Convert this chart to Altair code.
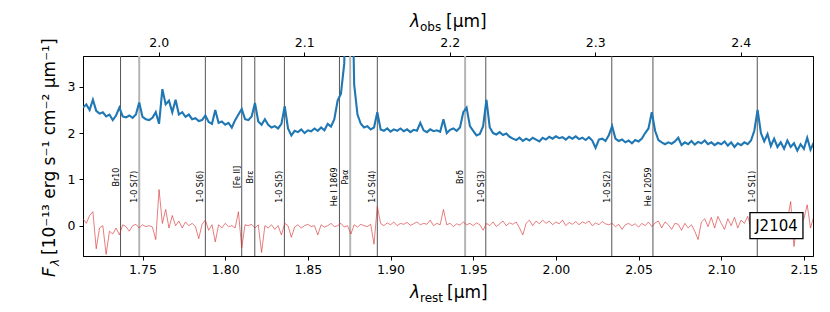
import altair as alt
import pandas as pd

# ---------------- data ----------------
wl = [
    1.714, 1.716, 1.718, 1.720, 1.722, 1.724, 1.726, 1.728, 1.730, 1.732,
    1.734, 1.736, 1.738, 1.740, 1.742, 1.744, 1.746, 1.748, 1.750, 1.752,
    1.754, 1.756, 1.758, 1.760, 1.762, 1.764, 1.766, 1.768, 1.770, 1.772,
    1.774, 1.776, 1.778, 1.780, 1.782, 1.784, 1.786, 1.788, 1.790, 1.792,
    1.794, 1.796, 1.798, 1.800, 1.802, 1.804, 1.806, 1.808, 1.810, 1.812,
    1.814, 1.816, 1.818, 1.820, 1.822, 1.824, 1.826, 1.828, 1.830, 1.832,
    1.834, 1.836, 1.838, 1.840, 1.842, 1.844, 1.846, 1.848, 1.850, 1.852,
    1.854, 1.856, 1.858, 1.860, 1.862, 1.864, 1.866, 1.868, 1.870, 1.872,
    1.874, 1.876, 1.878, 1.880, 1.882, 1.884, 1.886, 1.888, 1.890, 1.892,
    1.894, 1.896, 1.898, 1.900, 1.902, 1.904, 1.906, 1.908, 1.910, 1.912,
    1.914, 1.916, 1.918, 1.920, 1.922, 1.924, 1.926, 1.928, 1.930, 1.932,
    1.934, 1.936, 1.938, 1.940, 1.942, 1.944, 1.946, 1.948, 1.950, 1.952,
    1.954, 1.956, 1.958, 1.960, 1.962, 1.964, 1.966, 1.968, 1.970, 1.972,
    1.974, 1.976, 1.978, 1.980, 1.982, 1.984, 1.986, 1.988, 1.990, 1.992,
    1.994, 1.996, 1.998, 2.000, 2.002, 2.004, 2.006, 2.008, 2.010, 2.012,
    2.014, 2.016, 2.018, 2.020, 2.022, 2.024, 2.026, 2.028, 2.030, 2.032,
    2.034, 2.036, 2.038, 2.040, 2.042, 2.044, 2.046, 2.048, 2.050, 2.052,
    2.054, 2.056, 2.058, 2.060, 2.062, 2.064, 2.066, 2.068, 2.070, 2.072,
    2.074, 2.076, 2.078, 2.080, 2.082, 2.084, 2.086, 2.088, 2.090, 2.092,
    2.094, 2.096, 2.098, 2.100, 2.102, 2.104, 2.106, 2.108, 2.110, 2.112,
    2.114, 2.116, 2.118, 2.120, 2.122, 2.124, 2.126, 2.128, 2.130, 2.132,
    2.134, 2.136, 2.138, 2.140, 2.142, 2.144, 2.146, 2.148, 2.150, 2.152,
    2.154, 2.156,
]

flux = [
    2.55, 2.62, 2.50, 2.72, 2.48, 2.42, 2.45, 2.36, 2.40, 2.28,
    2.38, 2.55, 2.36, 2.34, 2.38, 2.33, 2.40, 2.66, 2.35, 2.30,
    2.28, 2.33, 2.45, 2.20, 2.95, 2.62, 2.70, 2.45, 2.72, 2.40,
    2.45, 2.35, 2.40, 2.30, 2.32, 2.26, 2.28, 2.38, 2.24, 2.20,
    2.50, 2.22, 2.25, 2.18, 2.22, 2.12, 2.28, 2.40, 2.52, 2.30,
    2.28, 2.36, 2.65, 2.25, 2.18, 2.30, 2.18, 2.12, 2.15, 2.10,
    2.20, 2.58, 2.10, 1.95, 2.05, 2.02, 2.08, 2.00, 2.06, 2.04,
    2.10, 2.05, 2.12, 2.06, 2.20, 2.14, 2.30, 2.70, 2.85, 3.50,
    8.00, 7.00, 3.05, 2.40, 2.20, 2.12, 2.15, 2.08, 2.12, 2.45,
    2.08, 2.05, 2.10, 2.03, 2.08, 2.05, 2.10, 2.04, 2.08, 2.02,
    2.07, 2.05, 2.22, 2.06, 2.02, 2.08, 2.04, 2.06, 2.03, 2.30,
    2.00, 2.07, 2.10, 2.05, 2.12, 2.45, 2.55, 2.15, 2.05, 1.95,
    1.98, 2.15, 2.72, 2.12, 2.00, 1.97, 2.02, 1.96, 1.99, 1.92,
    1.88, 1.85, 1.90, 1.83, 1.88, 1.84, 1.90, 1.86, 1.82, 1.90,
    1.86, 1.92, 1.88, 1.93, 1.89, 1.91, 1.86, 1.92, 1.88, 1.93,
    1.87, 1.90, 1.85, 1.91, 1.84, 1.68, 1.86, 1.88, 1.83, 1.95,
    2.15, 1.88, 1.83, 1.86, 1.80, 1.84, 1.78, 1.85, 1.82, 1.88,
    2.00, 2.10, 2.45, 2.05, 1.85, 1.80, 1.76, 1.80, 1.77, 1.82,
    1.90, 1.74, 1.80, 1.76, 1.83, 1.75, 1.81, 1.78, 1.84, 1.76,
    1.80, 1.74, 1.79, 1.76, 1.82, 1.73, 1.80, 1.70, 1.78, 1.74,
    1.80, 1.76, 1.84, 2.05, 2.50, 2.00, 1.82, 1.98, 1.72, 1.88,
    1.70, 1.80, 1.66, 1.84, 1.70, 1.78, 1.62, 1.76, 1.66, 1.90,
    1.64, 1.80,
]

resid = [
    0.15, 0.05, 0.22, 0.30, -0.50, -0.05, 0.00, -0.62, -0.12, -0.18,
    -0.05, -0.20, 0.02, -0.02, -0.12, 0.00, 0.03, -0.05, 0.02, -0.02,
    0.00, -0.03, -0.30, 0.78, 0.05, 0.35, -0.05, 0.22, 0.00, 0.10,
    -0.05, 0.08, 0.00, 0.05, -0.02, -0.28, 0.03, 0.12, -0.10, 0.02,
    -0.35, 0.02, -0.05, 0.05, -0.02, 0.00, -0.05, 0.30, -0.48, 0.02,
    0.00, 0.03, -0.05, 0.02, -0.58, 0.00, -0.05, 0.02, -0.08, 0.00,
    -0.20, 0.05, 0.00, -0.25, -0.03, 0.02, -0.05, 0.00, 0.03, -0.02,
    0.00, -0.20, 0.02, -0.03, 0.00, 0.05, -0.02, 0.00, 0.05, -0.03,
    0.00, -0.18, 0.02, -0.03, 0.03, 0.00, -0.02, 0.03, -0.40, 0.42,
    0.05, 0.00, 0.06, 0.02, 0.08, 0.00, 0.05, 0.03, 0.07, 0.01,
    0.04, 0.08, 0.02, 0.05, 0.03, 0.12, 0.00, 0.05, 0.02, 0.35,
    0.02, 0.05, -0.02, 0.04, 0.01, 0.08, 0.02, 0.05, 0.00, 0.06,
    0.02, -0.10, 0.05, 0.00, 0.08, -0.02, 0.04, 0.10, 0.00, 0.06,
    0.03, 0.08, -0.05, -0.20, 0.05, 0.12, 0.00, 0.10, 0.04, 0.12,
    0.05, 0.10, 0.02, 0.08, 0.04, 0.12, 0.00, 0.07, 0.03, 0.09,
    0.02, 0.08, 0.05, 0.10, 0.00, 0.06, 0.02, 0.09, 0.04, 0.02,
    0.05, -0.02, 0.03, -0.08, 0.02, 0.05, 0.00, 0.04, -0.03, 0.05,
    0.00, 0.08, -0.02, 0.06, 0.10, -0.05, 0.08, 0.02, -0.08, 0.05,
    0.03, -0.10, 0.05, -0.05, 0.02, -0.12, -0.30, 0.08, 0.15, -0.02,
    0.18, -0.05, 0.20, 0.05, -0.08, 0.15, 0.00, 0.18, -0.05, 0.12,
    0.05, 0.20, -0.05, 0.15, 0.02, 0.18, 0.08, -0.05, 0.15, 0.00,
    0.10, 0.05, -0.10, 0.12, 0.52, -0.45, 0.10, 0.05, 0.15, 0.45,
    -0.05, 0.20,
]

line_names = ["Br10", "1-0 S(7)", "1-0 S(6)", "[Fe II]", "Brε", "1-0 S(5)",
              "He I 1869", "Paα", "1-0 S(4)", "Brδ", "1-0 S(3)", "1-0 S(2)",
              "He I 2059", "1-0 S(1)"]
line_wl = [1.7367, 1.7480, 1.7880, 1.8100, 1.8179, 1.8358, 1.8691, 1.8756,
           1.8920, 1.9451, 1.9576, 2.0338, 2.0587, 2.1218]

obs_ticks = [2.0, 2.1, 2.2, 2.3, 2.4]
rest_ticks = [1.75, 1.80, 1.85, 1.90, 1.95, 2.00, 2.05, 2.10, 2.15]
flux_ticks = [0, 1, 2, 3]
redshift = 0.1365
object_name = "J2104"

# ---------------- styling / layout ----------------
W, H = 730, 200
X_DOM = [1.714, 2.1555]
Y_DOM = [-0.655, 3.665]
FONT = "DejaVu Sans"
light_lines = ["1-0 S(7)", "Paα", "Brδ"]
upper_labels = ["Br10", "[Fe II]", "Brε", "Paα", "Brδ"]

spec = pd.DataFrame({"wl": wl, "flux": flux, "resid": resid})
lines = pd.DataFrame({"name": line_names, "wl": line_wl})
lines["light"] = lines["name"].isin(light_lines)
lines["ly"] = [1.05 if n in upper_labels else 0.84 for n in line_names]
box = pd.DataFrame({"wl": [2.1334], "y": [0.0], "label": [object_name]})

xscale = alt.Scale(domain=X_DOM, nice=False, zero=False)
yscale = alt.Scale(domain=Y_DOM, nice=False, zero=False)
xaxis = alt.Axis(values=rest_ticks, format=".2f", title=None, grid=False,
                 labelFontSize=12.5, tickSize=4, labelPadding=3)
yaxis = alt.Axis(values=flux_ticks, format="d", title=None, grid=False,
                 labelFontSize=12.5, tickSize=4, labelPadding=4)
X = alt.X("wl:Q", scale=xscale, axis=xaxis)
Y = lambda f: alt.Y(f"{f}:Q", scale=yscale, axis=yaxis)

rules = alt.Chart(lines).mark_rule().encode(
    x=X,
    color=alt.condition("datum.light", alt.value("#b5b5b5"), alt.value("#555555")),
    strokeWidth=alt.condition("datum.light", alt.value(2), alt.value(1)),
)
labels = alt.Chart(lines).mark_text(
    angle=270, align="center", baseline="bottom", font=FONT, fontSize=8, color="black"
).encode(x=X, y=Y("ly"), text="name:N")

blue = alt.Chart(spec).mark_line(color="#1f77b4", strokeWidth=2.1, clip=True).encode(
    x=X, y=Y("flux"))
red = alt.Chart(spec).mark_line(color="#d62728", strokeWidth=0.8, opacity=0.75, clip=True).encode(
    x=X, y=Y("resid"))

box_rect = alt.Chart(box).mark_point(
    shape="M-1,-0.49H1V0.49H-1Z", size=2809, filled=True, fill="white",
    stroke="black", strokeWidth=1.3, opacity=1
).encode(x=X, y=Y("y"))
box_text = alt.Chart(box).mark_text(
    font=FONT, fontSize=15, align="center", baseline="middle", color="black"
).encode(x=X, y=Y("y"), text="label:N")

one = pd.DataFrame({"k": [0]})
def piece(txt, x, y, size, angle=0, italic=False):
    kw = dict(text=txt, font=FONT, fontSize=size, align="left",
              baseline="alphabetic", color="black")
    if angle:
        kw["angle"] = angle
    if italic:
        kw["fontStyle"] = "italic"
    return alt.Chart(one).mark_text(**kw).encode(x=alt.value(x), y=alt.value(y))

titles = [
    piece("λ", 327, 242, 17, italic=True),
    piece("rest", 337, 245.5, 12),
    piece("[μm]", 364, 242, 17),
    piece("λ", 327, -29, 17, italic=True),
    piece("obs", 337, -25.5, 12),
    piece("[μm]", 363, -29, 17),
    piece("F", -28, 221, 17, angle=270, italic=True),
    piece("λ", -24, 210, 12, angle=270, italic=True),
    piece("[10⁻¹³ erg s⁻¹ cm⁻² μm⁻¹]", -28, 199, 17, angle=270),
]

main = alt.layer(rules, labels, blue, red, box_rect, box_text, *titles)

obs_df = pd.DataFrame({"obs": [X_DOM[0] * (1 + redshift), X_DOM[1] * (1 + redshift)]})
top = alt.Chart(obs_df).mark_point(opacity=0).encode(
    x=alt.X("obs:Q", scale=alt.Scale(domain=[X_DOM[0] * (1 + redshift), X_DOM[1] * (1 + redshift)],
                                     nice=False, zero=False),
            axis=alt.Axis(orient="top", values=obs_ticks, format=".1f", title=None,
                          grid=False, labelFontSize=12.5, tickSize=4, labelPadding=3)),
)

chart = alt.layer(main, top).resolve_scale(x="independent").properties(
    width=W, height=H,
    autosize=alt.AutoSizeParams(type="none"),
    padding={"left": 75, "top": 48, "right": 9, "bottom": 48},
).configure_view(stroke="black", strokeWidth=1).configure_axis(
    domainColor="black", tickColor="black", labelColor="black", labelFont=FONT,
    domainWidth=1, tickWidth=1
)

chart.save("out.html", embed_options={"renderer": "svg", "actions": False})
